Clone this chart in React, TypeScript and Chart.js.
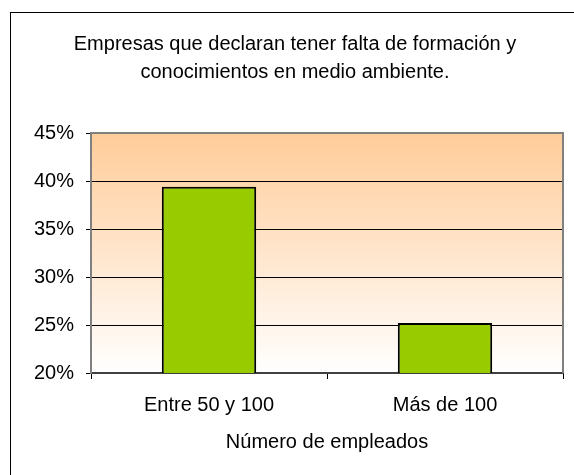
import React, { useEffect, useRef } from "react";
import { Chart, registerables } from "chart.js";

Chart.register(...registerables);

const titleLines = [
  "Empresas que declaran tener falta de formación y",
  "conocimientos en medio ambiente.",
];
const categories = ["Entre 50 y 100", "Más de 100"];
const values = [39.4, 25.2];
const xAxisTitle = "Número de empleados";
const yMin = 20;
const yMax = 45;
const yStep = 5;

const FONT = "'Liberation Sans', Arial, sans-serif";

const framePlugin = {
  id: "framePlugin",
  beforeDraw(chart: any) {
    const { ctx, chartArea } = chart;
    ctx.save();
    ctx.fillStyle = "#ffffff";
    ctx.fillRect(0, 0, chart.width, chart.height);
    ctx.strokeStyle = "#000000";
    ctx.lineWidth = 1;
    ctx.strokeRect(10.5, 12.5, 600, 500);
    const g = ctx.createLinearGradient(0, chartArea.top, 0, chartArea.bottom);
    g.addColorStop(0, "#FFCC99");
    g.addColorStop(1, "#FFFFFF");
    ctx.fillStyle = g;
    ctx.fillRect(chartArea.left, chartArea.top, chartArea.right - chartArea.left, chartArea.bottom - chartArea.top);
    ctx.restore();
  },
  afterDatasetsDraw(chart: any) {
    const { ctx, chartArea } = chart;
    ctx.save();
    ctx.strokeStyle = "#808080";
    ctx.lineWidth = 2;
    ctx.beginPath();
    ctx.moveTo(chartArea.left, chartArea.top);
    ctx.lineTo(chartArea.right, chartArea.top);
    ctx.lineTo(chartArea.right, chartArea.bottom);
    ctx.stroke();
    ctx.restore();
  },
};

export default function App() {
  const ref = useRef<HTMLCanvasElement | null>(null);
  useEffect(() => {
    document.body.style.margin = "0";
    if (!ref.current) return;
    const chart = new Chart(ref.current, {
      type: "bar",
      data: {
        labels: categories,
        datasets: [
          {
            data: values,
            backgroundColor: "#99CC00",
            borderColor: "#000000",
            borderWidth: 2,
            borderSkipped: false,
            barPercentage: 0.4,
            categoryPercentage: 1,
          },
        ],
      },
      options: {
        responsive: false,
        animation: false,
        layout: { padding: { left: 27, right: 11, top: 0, bottom: 0 } },
        plugins: {
          legend: { display: false },
          tooltip: { enabled: false },
          title: {
            display: true,
            text: titleLines,
            color: "#000000",
            font: { family: FONT, size: 20, weight: "normal", lineHeight: 1.4 },
            padding: { top: 30, bottom: 47 },
          },
        },
        scales: {
          x: {
            afterFit: (s: any) => {
              s.height = 102;
            },
            grid: {
              offset: true,
              drawOnChartArea: false,
              drawTicks: true,
              tickLength: 6,
              color: "#000000",
            },
            border: { color: "#404040", width: 2 },
            ticks: {
              color: "#000000",
              padding: 14,
              font: { family: FONT, size: 20 },
            },
            title: {
              display: true,
              text: xAxisTitle,
              color: "#000000",
              font: { family: FONT, size: 20, lineHeight: 1.2 },
              padding: { top: 4, bottom: 21 },
            },
          },
          y: {
            min: yMin,
            max: yMax,
            afterFit: (s: any) => {
              s.width = 64;
            },
            grid: {
              color: "#000000",
              lineWidth: 1,
              tickLength: 5,
              drawTicks: true,
            },
            border: { color: "#808080", width: 2 },
            ticks: {
              stepSize: yStep,
              color: "#000000",
              padding: 12,
              font: { family: FONT, size: 20 },
              callback: (v: any) => v + "%",
            },
          },
        },
      },
      plugins: [framePlugin],
    });
    return () => chart.destroy();
  }, []);
  return (
    <div style={{ position: "fixed", left: 0, top: 0, width: 574, height: 475 }}>
      <canvas ref={ref} width={574} height={475} style={{ display: "block" }} />
    </div>
  );
}
